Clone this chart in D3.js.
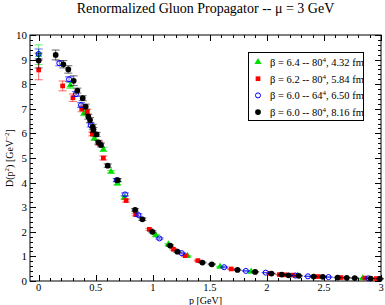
<!DOCTYPE html>
<html><head><meta charset="utf-8">
<script src="https://cdn.jsdelivr.net/npm/d3@7"></script>
<style>body{margin:0;background:#fff}svg{display:block}text{font-family:"Liberation Serif","Times New Roman",serif}</style>
</head><body>
<script>
const titleText = "Renormalized Gluon Propagator -- \u03bc = 3 GeV";
const xTicks = [0, 0.5, 1, 1.5, 2, 2.5, 3];
const xTickLabels = ["0", "0.5", "1", "1.5", "2", "2.5", "3"];
const yTicks = [0,1,2,3,4,5,6,7,8,9,10];

// [p, D, err]
const green64 = [[0,9.2,0.4],[0.277,7.95,0.12],[0.397,6.82,0.1],[0.488,5.8,0.08],[0.567,5.35,0.08],[0.634,4.44,0.05],[0.69,3.97,0.06],[0.751,3.39,0.06],[1.026,1.86,0.03],[1.137,1.49,0.03],[1.304,1.02,0.02],[1.59,0.58,0.02],[1.862,0.38,0.01],[2.27,0.22,0.01],[2.84,0.11,0.01]];
const red62 = [[0,8.58,0.4],[0.21,7.93,0.2],[0.30,7.45,0.15],[0.377,7.0,0.12],[0.427,6.88,0.1],[0.47,5.98,0.08],[0.529,5.6,0.08],[0.567,5.0,0.08],[0.766,3.27,0.06],[0.85,2.7,0.05],[0.97,2.1,0.04],[1.181,1.29,0.03],[1.283,1.03,0.02],[1.395,0.83,0.02],[1.687,0.49,0.02],[2.03,0.31,0.01],[2.11,0.26,0.01],[2.16,0.25,0.01],[2.23,0.24,0.01],[2.45,0.18,0.01],[2.65,0.14,0.01],[2.86,0.12,0.01],[2.96,0.1,0.01]];
const blue60s = [[0,9.23,0.2],[0.181,8.85,0.1],[0.266,8.2,0.1],[0.327,7.6,0.1],[0.371,7.15,0.1],[0.456,6.34,0.08],[0.684,4.1,0.06],[0.757,3.52,0.06],[0.874,2.68,0.05],[1.058,1.73,0.03],[1.254,1.13,0.02],[1.625,0.56,0.02],[1.816,0.41,0.01],[1.99,0.34,0.01],[2.25,0.22,0.01],[2.36,0.19,0.01],[2.54,0.16,0.01],[2.89,0.11,0.01]];
const black60 = [[0,8.96,0.3],[0.149,9.19,0.2],[0.216,8.81,0.15],[0.26,8.6,0.15],[0.307,8.14,0.2],[0.339,7.74,0.1],[0.386,7.43,0.1],[0.412,7.09,0.1],[0.435,6.68,0.1],[0.45,6.54,0.1],[0.474,6.27,0.1],[0.479,6.14,0.1],[0.508,5.96,0.08],[0.523,5.64,0.08],[0.546,5.53,0.08],[0.605,4.69,0.07],[0.693,4.1,0.06],[0.845,2.89,0.05],[0.909,2.51,0.05],[0.997,2.0,0.04],[1.152,1.44,0.03],[1.216,1.19,0.03],[1.435,0.75,0.02],[1.517,0.68,0.02],[1.742,0.45,0.02],[1.897,0.37,0.01],[2.04,0.3,0.01],[2.13,0.26,0.01],[2.19,0.23,0.01],[2.28,0.21,0.01],[2.41,0.18,0.01],[2.49,0.17,0.01],[2.62,0.14,0.01],[2.70,0.13,0.01],[2.77,0.12,0.01],[2.91,0.1,0.01],[2.99,0.09,0.01]];

const seriesNames = ["green64","red62","blue60s","black60"];
const legendBeta = ["6.4","6.2","6.0","6.0"];
const legendLat = ["80","80","64","80"];
const legendSize = ["4.32 fm","5.84 fm","6.50 fm","8.16 fm"];

const W = 385, H = 305;
const m = {l:30, r:4, t:35, b:24};
const svg = d3.select("body").append("svg").attr("width",W).attr("height",H);
const x = d3.scaleLinear().domain([-0.076,3]).range([m.l, W-m.r]);
const y = d3.scaleLinear().domain([0,10]).range([H-m.b, m.t]);

const pw = W-m.r-m.l, ph = H-m.b-m.t;
svg.append("rect").attr("x",m.l).attr("y",m.t).attr("width",pw).attr("height",ph)
  .attr("fill","none").attr("stroke","#000").attr("stroke-width",1);

const xMinor = d3.range(0,3.001,0.1);
const yMinor = d3.range(0,10.001,0.2);
const tick = (x1,y1,x2,y2)=>svg.append("line").attr("x1",x1).attr("y1",y1).attr("x2",x2).attr("y2",y2).attr("stroke","#000").attr("stroke-width",1);
xMinor.forEach(v=>{const X=Math.round(x(v))+0.5; const major=Math.abs(v*2-Math.round(v*2))<1e-6; const L=major?6:3;
  tick(X,y(0),X,y(0)-L); tick(X,y(10),X,y(10)+L);});
yMinor.forEach(v=>{const Y=Math.round(y(v))+0.5; const major=Math.abs(v-Math.round(v))<1e-6; const L=major?6:3;
  tick(x(-0.076),Y,x(-0.076)+L,Y); tick(x(3),Y,x(3)-L,Y);});

svg.selectAll(".xl").data(xTicks).enter().append("text").attr("x",d=>x(d)).attr("y",H-m.b+9.5)
  .attr("text-anchor","middle").attr("font-size",10.5).text((d,i)=>xTickLabels[i]);
svg.selectAll(".yl").data(yTicks).enter().append("text").attr("x",m.l-3).attr("y",d=>y(d)+4)
  .attr("text-anchor","end").attr("font-size",11).text(d=>d);

svg.append("text").attr("x",(m.l+W-m.r)/2).attr("y",13).attr("text-anchor","middle").attr("font-size",14).text(titleText);
const xl = svg.append("text").attr("x",(m.l+W-m.r)/2).attr("y",303.5).attr("text-anchor","middle").attr("font-size",10);
xl.append("tspan").text("p  [GeV]");
const yl = svg.append("text").attr("transform",`translate(13,${(m.t+H-m.b)/2}) rotate(-90)`).attr("text-anchor","middle").attr("font-size",10);
yl.append("tspan").text("D(p");
yl.append("tspan").attr("dy",-4).attr("font-size",7).text("2");
yl.append("tspan").attr("dy",4).text(")  [GeV");
yl.append("tspan").attr("dy",-4).attr("font-size",7).text("\u22122");
yl.append("tspan").attr("dy",4).text("]");

const styles = {
  green64:{color:"#00e000", sym:d3.symbolTriangle, size:22, fill:true},
  red62:{color:"#ff0000", sym:d3.symbolSquare, size:22, fill:true},
  blue60s:{color:"#0000ff", sym:d3.symbolCircle, size:20, fill:false},
  black60:{color:"#000000", sym:d3.symbolCircle, size:26, fill:true}
};
const allData = {green64, red62, blue60s, black60};

seriesNames.forEach(n=>{
  const st = styles[n], data = allData[n];
  const g = svg.append("g");
  data.forEach(([p,D,e])=>{
    const X=x(p), Y1=y(D+e), Y2=y(D-e);
    const eg = g.append("g").attr("stroke",st.color).attr("stroke-opacity",0.6).attr("stroke-width",1);
    eg.append("line").attr("x1",X).attr("x2",X).attr("y1",Y1).attr("y2",Y2);
    eg.append("line").attr("x1",X-4).attr("x2",X+4).attr("y1",Y1).attr("y2",Y1);
    eg.append("line").attr("x1",X-4).attr("x2",X+4).attr("y1",Y2).attr("y2",Y2);
  });
  g.selectAll("path.s").data(data).enter().append("path")
    .attr("d",d3.symbol().type(st.sym).size(st.size))
    .attr("transform",d=>`translate(${x(d[0])},${y(d[1])})`)
    .attr("fill",st.fill?st.color:"none").attr("stroke",st.color).attr("stroke-width",st.fill?0:1);
});

// legend
const lg = svg.append("g");
lg.append("rect").attr("x",248.5).attr("y",52.5).attr("width",115).attr("height",68).attr("fill","#fff").attr("stroke","#000");
seriesNames.forEach((n,i)=>{
  const st=styles[n], yy=62+i*16.7;
  lg.append("path").attr("d",d3.symbol().type(st.sym).size(st.size)).attr("transform",`translate(258,${yy})`)
    .attr("fill",st.fill?st.color:"none").attr("stroke",st.color).attr("stroke-width",st.fill?0:1);
  const t = lg.append("text").attr("x",270).attr("y",yy+4).attr("font-size",10.5);
  t.append("tspan").text(`\u03b2 = ${legendBeta[i]} -- ${legendLat[i]}`);
  t.append("tspan").attr("dy",-4).attr("font-size",7).text("4");
  t.append("tspan").attr("dy",4).text(`, ${legendSize[i]}`);
});
</script>
</body></html>
